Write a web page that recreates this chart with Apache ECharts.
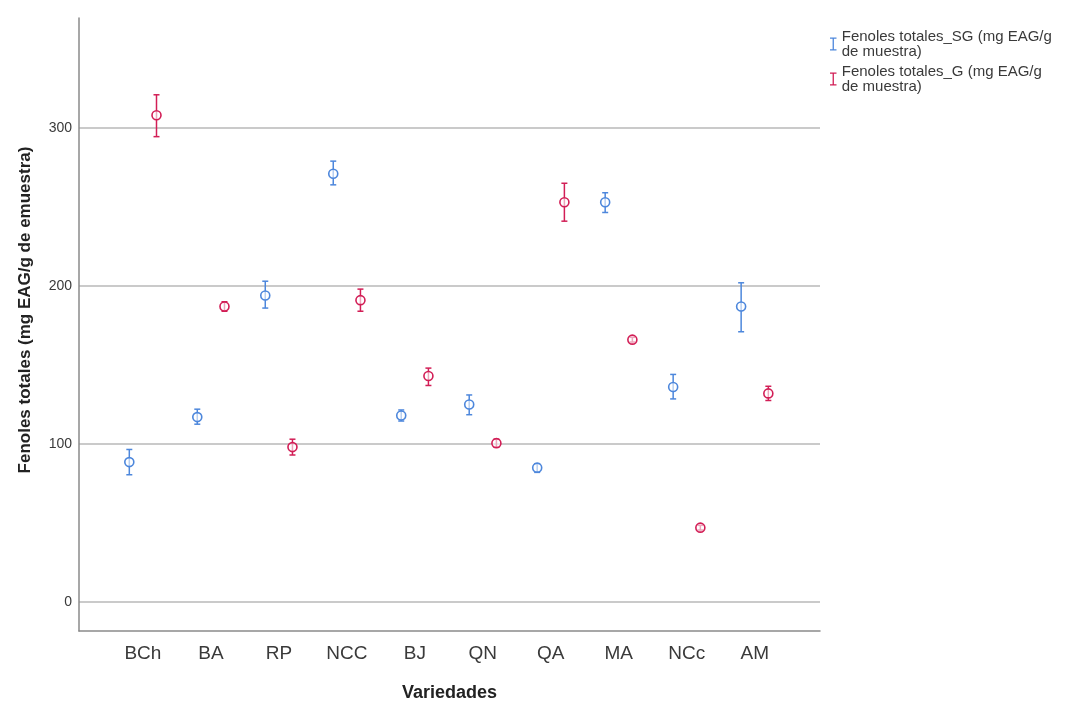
<!DOCTYPE html>
<html>
<head>
<meta charset="utf-8">
<script src="https://cdn.jsdelivr.net/npm/echarts@6/dist/echarts.min.js"></script>
<style>html,body{margin:0;padding:0;background:#fff;}#c{width:1083px;height:707px;}</style>
</head>
<body>
<div id="c"></div>
<script>
const categories = ['BCh','BA','RP','NCC','BJ','QN','QA','MA','NCc','AM'];
const sgMean = [88.5, 117, 194, 271, 118, 125, 85, 253, 136, 187];
const sgLow  = [80.5, 112.5, 186, 264, 114.5, 118.5, 82, 246.5, 128.5, 171];
const sgHigh = [96.5, 122, 203, 279, 121.5, 131, 87.5, 259, 144, 202];
const gMean = [308, 187, 98, 191, 143, 100.5, 253, 166, 47, 132];
const gLow  = [294.5, 184, 93, 184, 137, 98, 241, 164.5, 45.5, 127.5];
const gHigh = [321, 190, 103, 198, 148, 103, 265, 167.5, 48.5, 136.5];
const yTicks = [0, 100, 200, 300];
const sgName = 'Fenoles totales_SG (mg EAG/g\nde muestra)';
const gName = 'Fenoles totales_G (mg EAG/g\nde muestra)';

function build(mean, low, high, off) {
  return categories.map((c, i) => [i + off, mean[i], low[i], high[i]]);
}

function renderErr(params, api) {
  const x = api.value(0);
  const m = api.coord([x, api.value(1)]);
  const lo = api.coord([x, api.value(2)]);
  const hi = api.coord([x, api.value(3)]);
  const color = api.visual('color');
  const cap = 3;
  const st = {stroke: color, lineWidth: 1.5, fill: null};
  return {
    type: 'group',
    children: [
      {type: 'line', shape: {x1: m[0], y1: lo[1], x2: m[0], y2: hi[1]}, style: st},
      {type: 'line', shape: {x1: m[0] - cap, y1: lo[1], x2: m[0] + cap, y2: lo[1]}, style: st},
      {type: 'line', shape: {x1: m[0] - cap, y1: hi[1], x2: m[0] + cap, y2: hi[1]}, style: st},
      {type: 'circle', shape: {cx: m[0], cy: m[1], r: 4.5}, style: {stroke: color, lineWidth: 1.6, fill: 'rgba(255,255,255,0.6)'}}
    ]
  };
}

const chart = echarts.init(document.getElementById('c'));
const icon = 'path://M0,0h7v1.4h-7z M2.8,1.4h1.4v11.2h-1.4z M0,12.6h7v1.4h-7z';
const ff = 'Liberation Sans, Arial, sans-serif';
chart.setOption({
  animation: false,
  grid: {left: 79, right: 263, top: 18, bottom: 73, containLabel: false},
  legend: {
    orient: 'vertical', left: 825, top: 24, itemGap: 5,
    itemWidth: 7, itemHeight: 13,
    textStyle: {fontFamily: ff, fontSize: 15, color: '#3a3a3a', lineHeight: 15},
    data: [{name: sgName, icon: icon}, {name: gName, icon: icon}]
  },
  xAxis: {
    type: 'value', min: -0.94, max: 9.96,
    name: 'Variedades', nameLocation: 'middle', nameGap: 53,
    nameTextStyle: {fontFamily: ff, fontWeight: 'bold', fontSize: 18, color: '#222'},
    axisLine: {show: true, onZero: false, lineStyle: {color: '#8a8a8a', width: 1.5}},
    axisTick: {show: false},
    splitLine: {show: false},
    axisLabel: {
      customValues: categories.map((c, i) => i),
      formatter: v => categories[Math.round(v)] || '',
      fontFamily: ff, fontSize: 19, color: '#3a3a3a', margin: 13
    }
  },
  yAxis: {
    type: 'value', min: -18.4, max: 369.6,
    name: 'Fenoles totales (mg EAG/g de emuestra)', nameLocation: 'middle', nameGap: 45,
    nameTextStyle: {fontFamily: ff, fontWeight: 'bold', fontSize: 17, color: '#222', padding: [0, 0, 0, 29]},
    axisLine: {show: true, onZero: false, lineStyle: {color: '#8a8a8a', width: 1.5}},
    axisTick: {show: false, customValues: yTicks},
    splitLine: {show: true, lineStyle: {color: '#b8b8b8', width: 1.5}},
    axisLabel: {customValues: yTicks, fontFamily: ff, fontSize: 14, color: '#3a3a3a', margin: 7}
  },
  series: [
    {name: sgName, type: 'custom', renderItem: renderErr, itemStyle: {color: '#4d87dc'},
     encode: {x: 0, y: [1, 2, 3]}, data: build(sgMean, sgLow, sgHigh, -0.2)},
    {name: gName, type: 'custom', renderItem: renderErr, itemStyle: {color: '#d21e56'},
     encode: {x: 0, y: [1, 2, 3]}, data: build(gMean, gLow, gHigh, 0.2)}
  ]
});
</script>
</body>
</html>
